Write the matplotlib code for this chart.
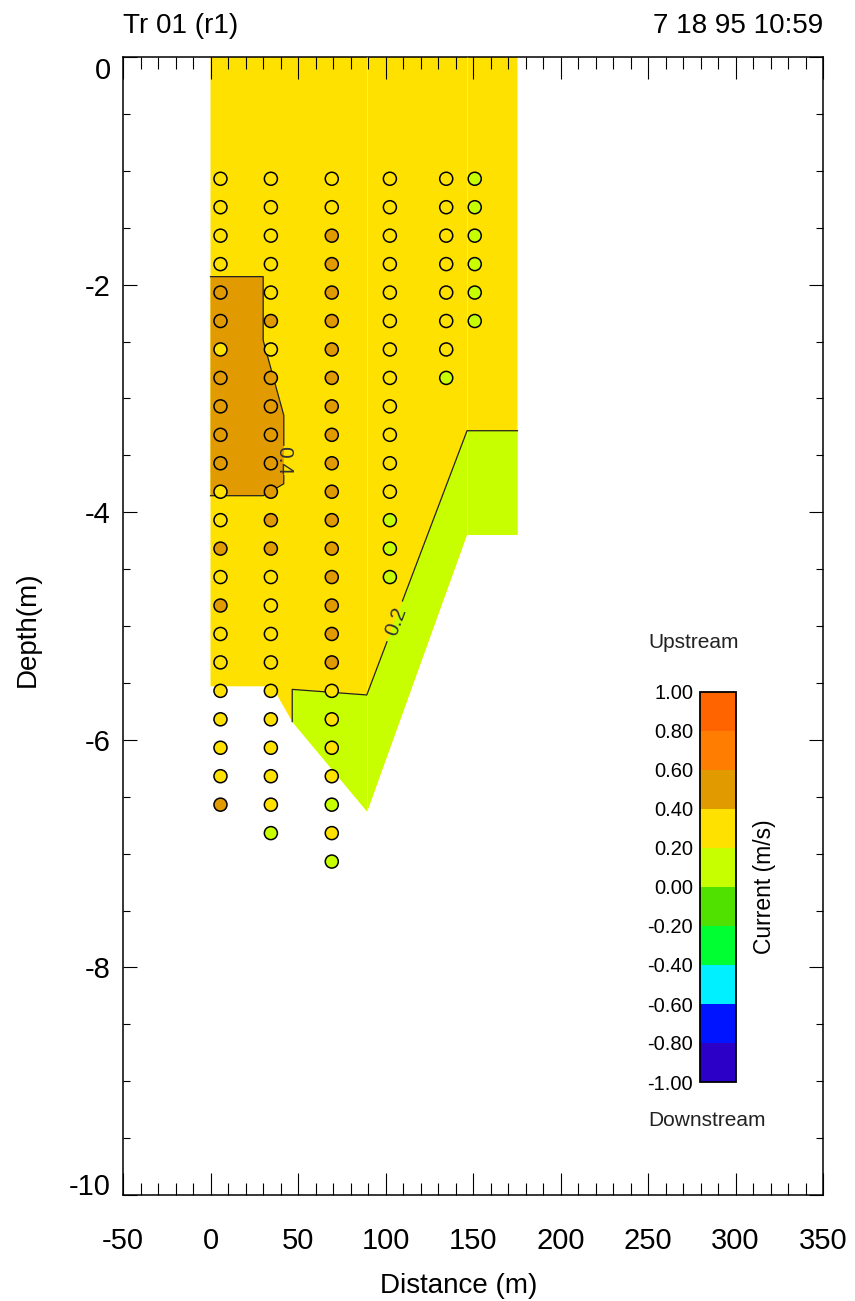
import numpy as np
import matplotlib
matplotlib.use('Agg')
import matplotlib.pyplot as plt
from matplotlib.colors import ListedColormap, BoundaryNorm
from matplotlib.cm import ScalarMappable
from matplotlib.ticker import MultipleLocator, FixedLocator

plt.rcParams['font.family'] = ['Liberation Sans', 'DejaVu Sans']
plt.rcParams['axes.unicode_minus'] = False

# ---------------- data ----------------
title_left = 'Tr 01 (r1)'
title_right = '7 18 95 10:59'

level_edges = [-1.0, -0.8, -0.6, -0.4, -0.2, 0.0, 0.2, 0.4, 0.6, 0.8, 1.0]
level_colors = ['#2D00C8', '#0014FF', '#00F0FF', '#00FF32', '#50E100',
                '#C8FF00', '#FFE100', '#E19B00', '#FF7D00', '#FF6400']

x_ticks = [-50, 0, 50, 100, 150, 200, 250, 300, 350]
y_ticks = [-10, -8, -6, -4, -2, 0]

# ADCP bin depths (m)
bin_depths = [1.07, 1.32, 1.57, 1.82, 2.07, 2.32, 2.57, 2.82, 3.07, 3.32,
              3.57, 3.82, 4.07, 4.32, 4.57, 4.82, 5.07, 5.32, 5.57, 5.82,
              6.07, 6.32, 6.57, 6.82, 7.07]

# ensemble positions along the transect (m)
ens_dist = [5.7, 34.5, 69.3, 102.5, 134.7, 151.0]

# measured current per bin (m/s), top to bottom
vel_ens1 = [0.33, 0.35, 0.37, 0.38, 0.41, 0.42, 0.39, 0.43, 0.44, 0.44, 0.42, 0.39,
            0.38, 0.41, 0.37, 0.41, 0.36, 0.34, 0.33, 0.32, 0.31, 0.34, 0.41]
vel_ens2 = [0.32, 0.34, 0.36, 0.37, 0.39, 0.41, 0.39, 0.42, 0.43, 0.44, 0.43, 0.42,
            0.41, 0.41, 0.38, 0.36, 0.35, 0.33, 0.31, 0.30, 0.29, 0.28, 0.26, 0.18]
vel_ens3 = [0.36, 0.38, 0.41, 0.42, 0.43, 0.44, 0.45, 0.46, 0.46, 0.45, 0.45, 0.44,
            0.43, 0.43, 0.42, 0.42, 0.41, 0.41, 0.38, 0.34, 0.30, 0.25, 0.17, 0.22, 0.12]
vel_ens4 = [0.31, 0.32, 0.33, 0.34, 0.34, 0.33, 0.32, 0.31, 0.30, 0.28, 0.26, 0.23,
            0.19, 0.17, 0.15]
vel_ens5 = [0.27, 0.28, 0.28, 0.27, 0.26, 0.24, 0.22, 0.18]
vel_ens6 = [0.17, 0.18, 0.18, 0.17, 0.16, 0.15]
ens_values = [vel_ens1, vel_ens2, vel_ens3, vel_ens4, vel_ens5, vel_ens6]

# interpolated section: outline and contour zones (distance m, depth m)
section_dist = [0, 0, 35.2, 46.7, 89.5, 146.5, 175.4, 175.4]
section_depth = [0, 5.53, 5.53, 5.84, 6.63, 4.20, 4.20, 0]
section_value = 0.30

zone_hi_dist = [0, 30.1, 30.1, 41.9, 41.9, 37.5, 30.1, 0]
zone_hi_depth = [1.93, 1.93, 2.49, 3.15, 3.75, 3.79, 3.855, 3.855]
zone_hi_value = 0.45

zone_lo_dist = [46.7, 89.3, 146.6, 175.4, 175.4, 146.5, 89.5, 46.7]
zone_lo_depth = [5.557, 5.606, 3.284, 3.284, 4.20, 4.20, 6.63, 5.84]
zone_lo_value = 0.10

# contour lines (0.4 and 0.2 m/s) and their labels
c04_dist = [0, 30.1, 30.1, 41.9, 41.9, 37.5, 30.1, 0]
c04_depth = [1.93, 1.93, 2.49, 3.15, 3.75, 3.79, 3.855, 3.855]
c04_label = ('0.4', 41.9, 3.545)
c02_dist = [46.7, 46.7, 89.3, 146.6, 175.4]
c02_depth = [5.84, 5.557, 5.606, 3.284, 3.284]
c02_label = ('0.2', 106.2, 4.96)

# mesh columns of the interpolation grid
mesh_dist = [89.5, 146.5]
mesh_bottom = [6.63, 4.20]

# ---------------- figure ----------------
W, H = 855, 1301
fig = plt.figure(figsize=(W / 100, H / 100), dpi=100)
ax = fig.add_axes([123 / W, 1 - 1195 / H, 700 / W, 1138 / H])
ax.set_xlim(-50, 350)
ax.set_ylim(-10, 0)

cmap = ListedColormap(level_colors)
norm = BoundaryNorm(level_edges, cmap.N)

ax.fill(section_dist, -np.array(section_depth), color=cmap(norm(section_value)), lw=0, zorder=1)
ax.fill(zone_hi_dist, -np.array(zone_hi_depth), color=cmap(norm(zone_hi_value)), lw=0, zorder=2)
ax.fill(zone_lo_dist, -np.array(zone_lo_depth), color=cmap(norm(zone_lo_value)), lw=0, zorder=2)

for md, mb in zip(mesh_dist, mesh_bottom):
    ax.plot([md, md], [0, -mb], color='white', alpha=0.35, lw=0.7, zorder=3)


def draw_contour(xs, ds, label, gap_r):
    px, py = [], []
    for i in range(len(xs) - 1):
        t = np.linspace(0, 1, 150)
        px.extend(xs[i] + (xs[i + 1] - xs[i]) * t)
        py.extend(-(ds[i] + (ds[i + 1] - ds[i]) * t))
    px = np.array(px)
    py = np.array(py)
    disp = ax.transData.transform(np.column_stack([px, py]))
    c = ax.transData.transform((label[1], -label[2]))
    mask = np.hypot(disp[:, 0] - c[0], disp[:, 1] - c[1]) < gap_r
    py = np.where(mask, np.nan, py)
    ax.plot(px, py, color='#222222', lw=0.9, zorder=4)


draw_contour(c04_dist, c04_depth, c04_label, 15)
draw_contour(c02_dist, c02_depth, c02_label, 21)
ax.text(c04_label[1], -c04_label[2], c04_label[0], rotation=-90, ha='center', va='center',
        fontsize=15, color='#333333', zorder=4, rotation_mode='anchor')
ax.text(c02_label[1], -c02_label[2], c02_label[0], rotation=69.5, ha='center', va='center',
        fontsize=15, color='#333333', zorder=4, rotation_mode='anchor')

for d, vals in zip(ens_dist, ens_values):
    n = len(vals)
    ax.scatter([d] * n, -np.array(bin_depths[:n]), c=vals, cmap=cmap, norm=norm,
               s=88, edgecolors='black', linewidths=1.1, zorder=5)

# axes styling
for sp in ax.spines.values():
    sp.set_linewidth(1.1)
ax.xaxis.set_major_locator(FixedLocator(x_ticks))
ax.xaxis.set_minor_locator(MultipleLocator(10))
ax.yaxis.set_major_locator(FixedLocator(y_ticks))
ax.yaxis.set_minor_locator(MultipleLocator(0.5))
ax.tick_params(axis='x', which='major', direction='in', length=16, width=0.8,
               top=True, bottom=True, labelsize=21, pad=23)
ax.tick_params(axis='x', which='minor', direction='in', length=8.5, width=0.8,
               top=True, bottom=True)
ax.tick_params(axis='y', which='major', direction='in', length=10, width=0.8,
               left=True, right=True, labelsize=21, pad=9)
ax.tick_params(axis='y', which='minor', direction='in', length=5, width=0.8,
               left=True, right=True)
ax.set_xticklabels(['%d' % v for v in x_ticks])
ax.set_yticklabels(['%d' % v for v in y_ticks])

xl = ax.set_xlabel('Distance (m)', fontsize=20)
ax.xaxis.set_label_coords((459 - 123) / 700, -(1293 - 1195) / 1138)
xl.set_va('baseline')
yl = ax.set_ylabel('Depth(m)', fontsize=20)
ax.yaxis.set_label_coords((35 - 123) / 700, (1195 - 629) / 1138)
yl.set_va('baseline')

ax.set_title(title_left, loc='left', fontsize=20, pad=17)
ax.set_title(title_right, loc='right', fontsize=20, pad=17)

# colorbar
cax = fig.add_axes([700 / W, 1 - 1082 / H, 36 / W, 390 / H])
sm = ScalarMappable(norm=norm, cmap=cmap)
cb = fig.colorbar(sm, cax=cax, ticks=level_edges)
cax.yaxis.set_ticks_position('left')
cax.yaxis.set_label_position('right')
cax.tick_params(length=0, labelsize=14.5, pad=5)
cax.set_yticklabels(['%.2f' % v for v in level_edges])
cb.set_label('Current (m/s)', fontsize=16.5, labelpad=12)
cb.outline.set_linewidth(1.3)

fig.text(648 / W, 1 - 642 / H, 'Upstream', fontsize=15, ha='left', va='center', color='#222222')
fig.text(648 / W, 1 - 1120 / H, 'Downstream', fontsize=15, ha='left', va='center', color='#222222')

# end labels of the depth axis sit inside the axis range
fig.canvas.draw()
for tk in ax.yaxis.get_major_ticks():
    loc = tk.get_loc()
    if abs(loc) < 1e-9:
        tk.label1.set_va('top')
    elif abs(loc + 10) < 1e-9:
        tk.label1.set_va('baseline')

fig.savefig('out.png', dpi=100)
